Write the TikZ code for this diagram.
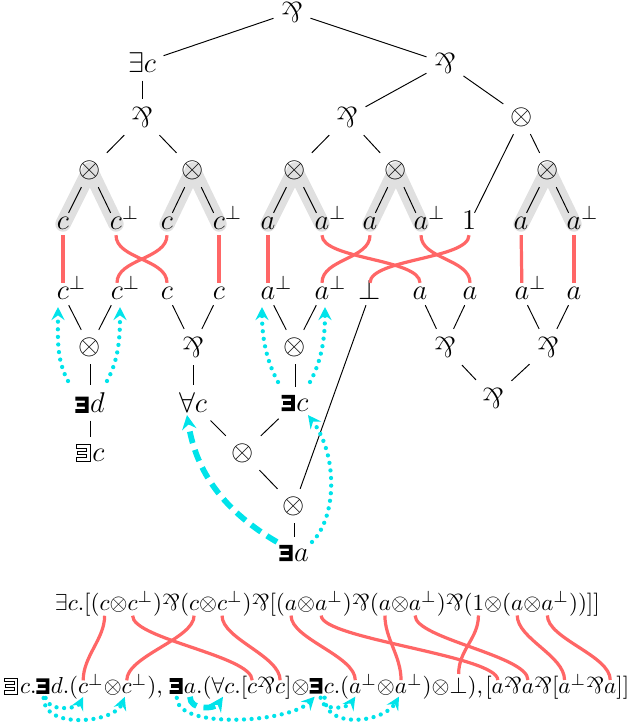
\documentclass[tikz,border=0pt]{standalone}
\usepackage{amsmath,amssymb}
\usepackage{graphicx}
\usetikzlibrary{arrows.meta,calc,backgrounds}
\definecolor{wirecol}{HTML}{FF6666}
\definecolor{cyanl}{HTML}{00E3EA}
\definecolor{hlcol}{gray}{0.88}
\newcommand\mypar{\mathord{\rotatebox[origin=c]{180}{\&}}}
\newcommand\bE{\tikz[baseline=0pt,x=1pt,y=1pt]\fill[black,solid] (0,0) -- (5.6,0) -- (5.6,6.8) -- (0,6.8) -- (0,5.2) -- (4,5.2) -- (4,4.2) -- (0.6,4.2) -- (0.6,2.6) -- (4,2.6) -- (4,1.6) -- (0,1.6) -- cycle;\kern0.6pt}
\newcommand\hE{\tikz[baseline=0pt,x=1pt,y=1pt]\draw[black,solid,line width=0.35pt] (0,0) -- (5.8,0) -- (5.8,6.9) -- (0,6.9) -- (0,5.3) -- (4.2,5.3) -- (4.2,4.2) -- (0.6,4.2) -- (0.6,2.7) -- (4.2,2.7) -- (4.2,1.6) -- (0,1.6) -- cycle;\kern0.8pt}
\tikzset{
  tn/.style={inner sep=3pt, font=\large},
  lf/.style={tn, inner sep=2pt, text height=5pt, text depth=0pt},
  f/.style={inner sep=0pt, outer sep=0pt, anchor=base west},
  wire/.style={wirecol, line width=1.35pt},
  hi/.style={hlcol, line width=6.5pt, line cap=round},
  dotar/.style={cyanl, line width=1.8pt, dash pattern=on 0pt off 3.2pt, line cap=round,
    -{Stealth[length=5.5pt,width=5.5pt,inset=2pt]}},
  dasar/.style={cyanl, line width=2.4pt, dash pattern=on 5pt off 3pt,
    -{Stealth[length=6pt,width=6pt,inset=2pt]}},
}
\begin{document}
\begin{tikzpicture}[x=0.42pt,y=-0.42pt]
\useasboundingbox (0,0) rectangle (626,728);
% top tree
\node[tn] (r) at (292,12) {$\mypar$};
\node[tn] (ec) at (142,63) {$\exists c$};
\node[tn] (p1) at (445,63) {$\mypar$};
\node[tn] (p2) at (142,117) {$\mypar$};
\node[tn] (p3) at (347,117) {$\mypar$};
\node[tn] (t1) at (522,117) {$\otimes$};
\node[tn] (g1) at (90,170) {$\otimes$};
\node[tn] (g2) at (193,170) {$\otimes$};
\node[tn] (g3) at (295,170) {$\otimes$};
\node[tn] (g4) at (396,170) {$\otimes$};
\node[tn] (g5) at (548,170) {$\otimes$};
\node[lf] (l1) at (63,224) {$c$};
\node[lf] (l2) at (116,224) {$c\rlap{$^{\perp}$}$};
\node[lf] (l3) at (167,224) {$c$};
\node[lf] (l4) at (219,224) {$c\rlap{$^{\perp}$}$};
\node[lf] (l5) at (268,224) {$a$};
\node[lf] (l6) at (322,224) {$a\rlap{$^{\perp}$}$};
\node[lf] (l7) at (370,224) {$a$};
\node[lf] (l8) at (421,224) {$a\rlap{$^{\perp}$}$};
\node[lf] (l9) at (469,224) {$1$};
\node[lf] (l10) at (521,224) {$a$};
\node[lf] (l11) at (574,224) {$a\rlap{$^{\perp}$}$};
\begin{pgfonlayer}{background}
\foreach \g/\l in {g1/l1,g1/l2,g2/l3,g2/l4,g3/l5,g3/l6,g4/l7,g4/l8,g5/l10,g5/l11}
  \draw[hi] (\g.center) -- (\l.center);
\end{pgfonlayer}
\foreach \a/\b in {r/ec,r/p1,ec/p2,p2/g1,p2/g2,p1/p3,p1/t1,p3/g3,p3/g4,t1/l9,t1/g5,
  g1/l1,g1/l2,g2/l3,g2/l4,g3/l5,g3/l6,g4/l7,g4/l8,g5/l10,g5/l11}
  \draw (\a) -- (\b);
% second row
\node[lf] (m1) at (63,294) {$c\rlap{$^{\perp}$}$};
\node[lf] (m2) at (117,294) {$c\rlap{$^{\perp}$}$};
\node[lf] (m3) at (167,294) {$c$};
\node[lf] (m4) at (219,294) {$c$};
\node[lf] (m5) at (268,294) {$a\rlap{$^{\perp}$}$};
\node[lf] (m6) at (322,294) {$a\rlap{$^{\perp}$}$};
\node[lf] (m7) at (370,294) {$\perp$};
\node[lf] (m8) at (420,294) {$a$};
\node[lf] (m9) at (470,294) {$a$};
\node[lf] (m10) at (522,294) {$a\rlap{$^{\perp}$}$};
\node[lf] (m11) at (574,294) {$a$};
% wires top
\draw[wire] (l1) -- (m1);
\draw[wire] (l4) -- (m4);
\draw[wire] (l5) -- (m5);
\draw[wire] (l10) -- (m10);
\draw[wire] (l11) -- (m11);
\foreach \a/\b in {l2/m3,l3/m2,l6/m8,l7/m6,l8/m9,l9/m7}
  \draw[wire] (\a.south) .. controls +(0,24) and +(0,-24) .. (\b.north);
% lower tree
\node[tn] (k1) at (90,347) {$\otimes$};
\node[tn] (e1) at (90,403) {\bE$d$};
\node[tn] (h1) at (90,453) {\hE$c$};
\node[tn] (q1) at (193,347) {$\mypar$};
\node[tn] (u1) at (193,403) {$\forall c$};
\node[tn] (k2) at (295,347) {$\otimes$};
\node[tn] (e2) at (295,403) {\bE$c$};
\node[tn] (k3) at (243,453) {$\otimes$};
\node[tn] (k4) at (294,506) {$\otimes$};
\node[tn] (e3) at (294,553) {\bE$a$};
\node[tn] (q2) at (445,347) {$\mypar$};
\node[tn] (q3) at (548,347) {$\mypar$};
\node[tn] (q4) at (493,398) {$\mypar$};
\foreach \a/\b in {m1/k1,m2/k1,k1/e1,e1/h1,m3/q1,m4/q1,q1/u1,m5/k2,m6/k2,k2/e2,
  u1/k3,e2/k3,k3/k4,m7/k4,k4/e3,m8/q2,m9/q2,m10/q3,m11/q3,q2/q4,q3/q4}
  \draw (\a) -- (\b);
% cyan arrows tree
\draw[dotar] ($(e1.center)+(-22,-22)$) .. controls +(-12,-22) and +(0,30) .. ($(m1.center)+(-5,13)$);
\draw[dotar] ($(e1.center)+(17,-22)$) .. controls +(12,-22) and +(0,30) .. ($(m2.center)+(3,13)$);
\draw[dotar] ($(e2.center)+(-17,-21)$) .. controls +(-12,-22) and +(0,30) .. ($(m5.center)+(-6,13)$);
\draw[dotar] ($(e2.center)+(15,-21)$) .. controls +(12,-22) and +(0,30) .. ($(m6.center)+(3,13)$);
\draw[dasar] ($(e3.center)+(-17,-11)$) .. controls +(-60,-35) and +(8,50) .. ($(u1.center)+(-6,12)$);
\draw[dotar] ($(e3.center)+(18,-11)$) .. controls +(25,-25) and +(30,40) .. ($(e2.center)+(13,12)$);
% formula line 1
\coordinate (L1) at (55,611);
\coordinate (L2) at (4,694);
\begin{scope}[scale=0.97, transform shape]
\node[f] (n1) at (L1) {$\exists c.[($};
\node[f] (c1) at (n1.base east) {$c$};
\node[f] (n2) at (c1.base east) {$\otimes$};
\node[f] (c1b) at (n2.base east) {$c$};
\node[f] (n3) at (c1b.base east) {$^{\perp})\mypar($};
\node[f] (c2) at (n3.base east) {$c$};
\node[f] (n4) at (c2.base east) {$\otimes$};
\node[f] (c2b) at (n4.base east) {$c$};
\node[f] (n5) at (c2b.base east) {$^{\perp})\mypar[($};
\node[f] (a1) at (n5.base east) {$a$};
\node[f] (n6) at (a1.base east) {$\otimes$};
\node[f] (a1b) at (n6.base east) {$a$};
\node[f] (n7) at (a1b.base east) {$^{\perp})\mypar($};
\node[f] (a2) at (n7.base east) {$a$};
\node[f] (n8) at (a2.base east) {$\otimes$};
\node[f] (a2b) at (n8.base east) {$a$};
\node[f] (n9) at (a2b.base east) {$^{\perp})\mypar($};
\node[f] (one) at (n9.base east) {$1$};
\node[f] (n10) at (one.base east) {$\otimes($};
\node[f] (a3) at (n10.base east) {$a$};
\node[f] (n11) at (a3.base east) {$\otimes$};
\node[f] (a3b) at (n11.base east) {$a$};
\node[f] (n12) at (a3b.base east) {$^{\perp}))]]$};
% formula line 2
\node[f] (h2) at (L2) {\hE$c.$};
\node[f] (E1) at (h2.base east) {\bE};
\node[f] (n21) at (E1.base east) {$d.($};
\node[f] (C1) at (n21.base east) {$c$};
\node[f] (n22) at (C1.base east) {$^{\perp}\otimes$};
\node[f] (C2) at (n22.base east) {$c$};
\node[f] (n23) at (C2.base east) {$^{\perp})$,\kern3pt};
\node[f] (E2) at (n23.base east) {\bE};
\node[f] (n24) at (E2.base east) {$a.($};
\node[f] (Q1) at (n24.base east) {$\forall c$};
\node[f] (n25) at (Q1.base east) {$.[$};
\node[f] (C3) at (n25.base east) {$c$};
\node[f] (n26) at (C3.base east) {$\mypar$};
\node[f] (C4) at (n26.base east) {$c$};
\node[f] (n27) at (C4.base east) {$]\otimes$};
\node[f] (E3) at (n27.base east) {\bE};
\node[f] (n28) at (E3.base east) {$c.($};
\node[f] (A1) at (n28.base east) {$a$};
\node[f] (n29) at (A1.base east) {$^{\perp}\otimes$};
\node[f] (A2) at (n29.base east) {$a$};
\node[f] (n30) at (A2.base east) {$^{\perp})\otimes$};
\node[f] (B) at (n30.base east) {$\perp$};
\node[f] (n31) at (B.base east) {$)$,\kern1pt$[$};
\node[f] (H) at (n31.base east) {$a$};
\node[f] (n32) at (H.base east) {$\mypar$};
\node[f] (I) at (n32.base east) {$a$};
\node[f] (n33) at (I.base east) {$\mypar[$};
\node[f] (J) at (n33.base east) {$a$};
\node[f] (n34) at (J.base east) {$^{\perp}\mypar$};
\node[f] (K) at (n34.base east) {$a$};
\node[f] (n35) at (K.base east) {$]]$};
\end{scope}
% formula wires
\foreach \a/\b in {c1/C1,c1b/C3,c2/C2,c2b/C4,a1/A1,a1b/H,a2/A2,a2b/I,one/B,a3/J,a3b/K}
  \draw[wire, shorten <=2pt, shorten >=1.5pt] (\a.south) .. controls +(0,28) and +(0,-28) .. (\b.north);
% formula arrows
\draw[dotar] ($(E1.south)+(2,4)$) .. controls +(2,14) and +(-6,12) .. ($(C1.south)+(0,3)$);
\draw[dotar] ($(E1.south)+(0,4)$) .. controls +(0,32) and +(-10,26) .. ($(C2.south)+(-2,3)$);
\draw[dasar] ($(E2.south east)+(6,3)$) .. controls +(0,14) and +(-8,12) .. ($(Q1.south)+(0,3)$);
\draw[dotar] ($(E2.south)+(0,4)$) .. controls +(0,32) and +(-25,26) .. ($(E3.south)+(-2,3)$);
\draw[dotar] ($(E3.south)+(4,4)$) .. controls +(0,14) and +(-8,12) .. ($(A1.south)+(0,3)$);
\draw[dotar] ($(E3.south)+(8,4)$) .. controls +(0,32) and +(-15,26) .. ($(A2.south)+(-2,3)$);
\end{tikzpicture}
\end{document}
